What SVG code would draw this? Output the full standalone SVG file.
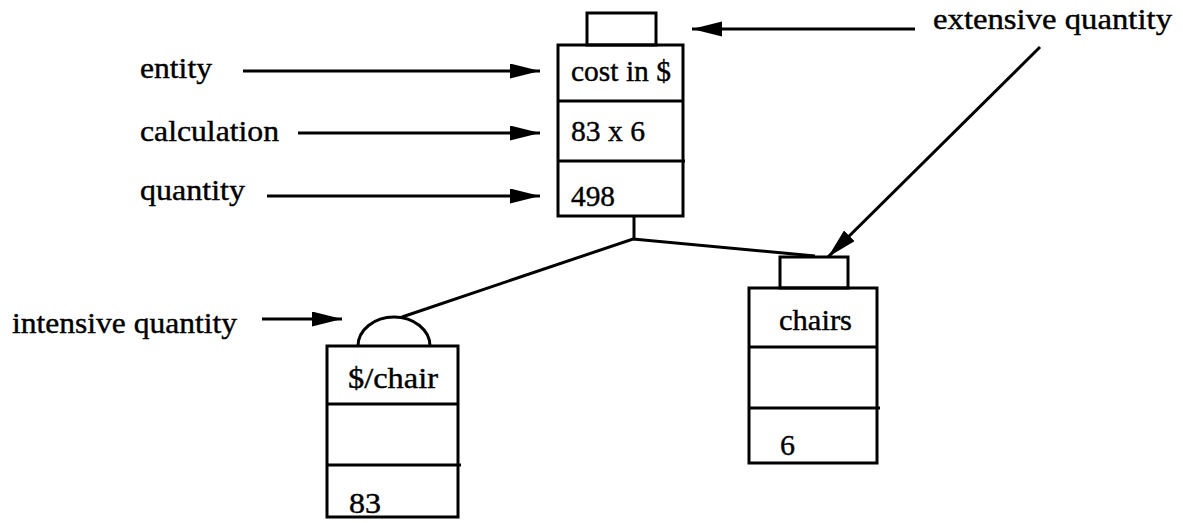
<svg xmlns="http://www.w3.org/2000/svg" width="1183" height="523" viewBox="0 0 1183 523">
<style>
text{font-family:"Liberation Serif","Times New Roman",serif;font-size:29px;fill:#000;stroke:#000;stroke-width:0.4}
.box{fill:none;stroke:#000;stroke-width:3}
.ln{fill:none;stroke:#000;stroke-width:3}
.arr{fill:none;stroke:#000;stroke-width:3;marker-end:url(#ah)}
</style>
<defs>
<marker id="ah" markerUnits="userSpaceOnUse" markerWidth="32" markerHeight="16" refX="30" refY="7.5" orient="auto">
<path d="M0,0 L30,7.5 L0,15 Z" fill="#000"/>
</marker>
</defs>
<rect width="1183" height="523" fill="#fff"/>
<g id="labels">
<text x="140" y="78" textLength="72" lengthAdjust="spacingAndGlyphs">entity</text>
<text x="140" y="141" textLength="139" lengthAdjust="spacingAndGlyphs">calculation</text>
<text x="140" y="200" textLength="105" lengthAdjust="spacingAndGlyphs">quantity</text>
<text x="12" y="333" textLength="225" lengthAdjust="spacingAndGlyphs">intensive quantity</text>
<text x="933" y="29" textLength="239" lengthAdjust="spacingAndGlyphs">extensive quantity</text>
</g>
<g id="node-cost">
<rect class="box" x="587" y="13" width="69" height="32"/>
<rect class="box" x="558" y="45" width="125" height="171"/>
<line class="ln" x1="558" y1="101" x2="683" y2="101"/>
<line class="ln" x1="558" y1="161" x2="685" y2="161"/>
<text x="571" y="81" textLength="100" lengthAdjust="spacingAndGlyphs">cost in $</text>
<text x="571" y="141" textLength="74" lengthAdjust="spacingAndGlyphs">83 x 6</text>
<text x="571" y="206" textLength="44" lengthAdjust="spacingAndGlyphs">498</text>
</g>
<g id="node-chair-rate">
<path class="box" d="M358,346 A36,29 0 0 1 430,346"/>
<rect class="box" x="327" y="346" width="131" height="171"/>
<line class="ln" x1="327" y1="404" x2="458" y2="404"/>
<line class="ln" x1="327" y1="465" x2="461" y2="465"/>
<text x="348" y="388" textLength="90" lengthAdjust="spacingAndGlyphs">$/chair</text>
<text x="349" y="513" textLength="32" lengthAdjust="spacingAndGlyphs">83</text>
</g>
<g id="node-chairs">
<rect class="box" x="780" y="257" width="68" height="31"/>
<rect class="box" x="749" y="288" width="128" height="175"/>
<line class="ln" x1="749" y1="347" x2="877" y2="347"/>
<line class="ln" x1="749" y1="408" x2="880" y2="408"/>
<text x="779" y="330" textLength="73" lengthAdjust="spacingAndGlyphs">chairs</text>
<text x="780" y="455" textLength="15" lengthAdjust="spacingAndGlyphs">6</text>
</g>
<g id="connectors">
<line class="arr" x1="243" y1="71" x2="540" y2="71"/>
<line class="arr" x1="298" y1="133" x2="540" y2="133"/>
<line class="arr" x1="267" y1="196" x2="540" y2="196"/>
<line class="arr" x1="262" y1="319" x2="342" y2="319"/>
<line class="arr" x1="915" y1="29" x2="692" y2="29"/>
<line class="arr" x1="1040" y1="47" x2="828" y2="257"/>
<polyline class="ln" points="634,216 634,239"/>
<polyline class="ln" points="402,317 633,239 815,256"/>
</g>
</svg>
